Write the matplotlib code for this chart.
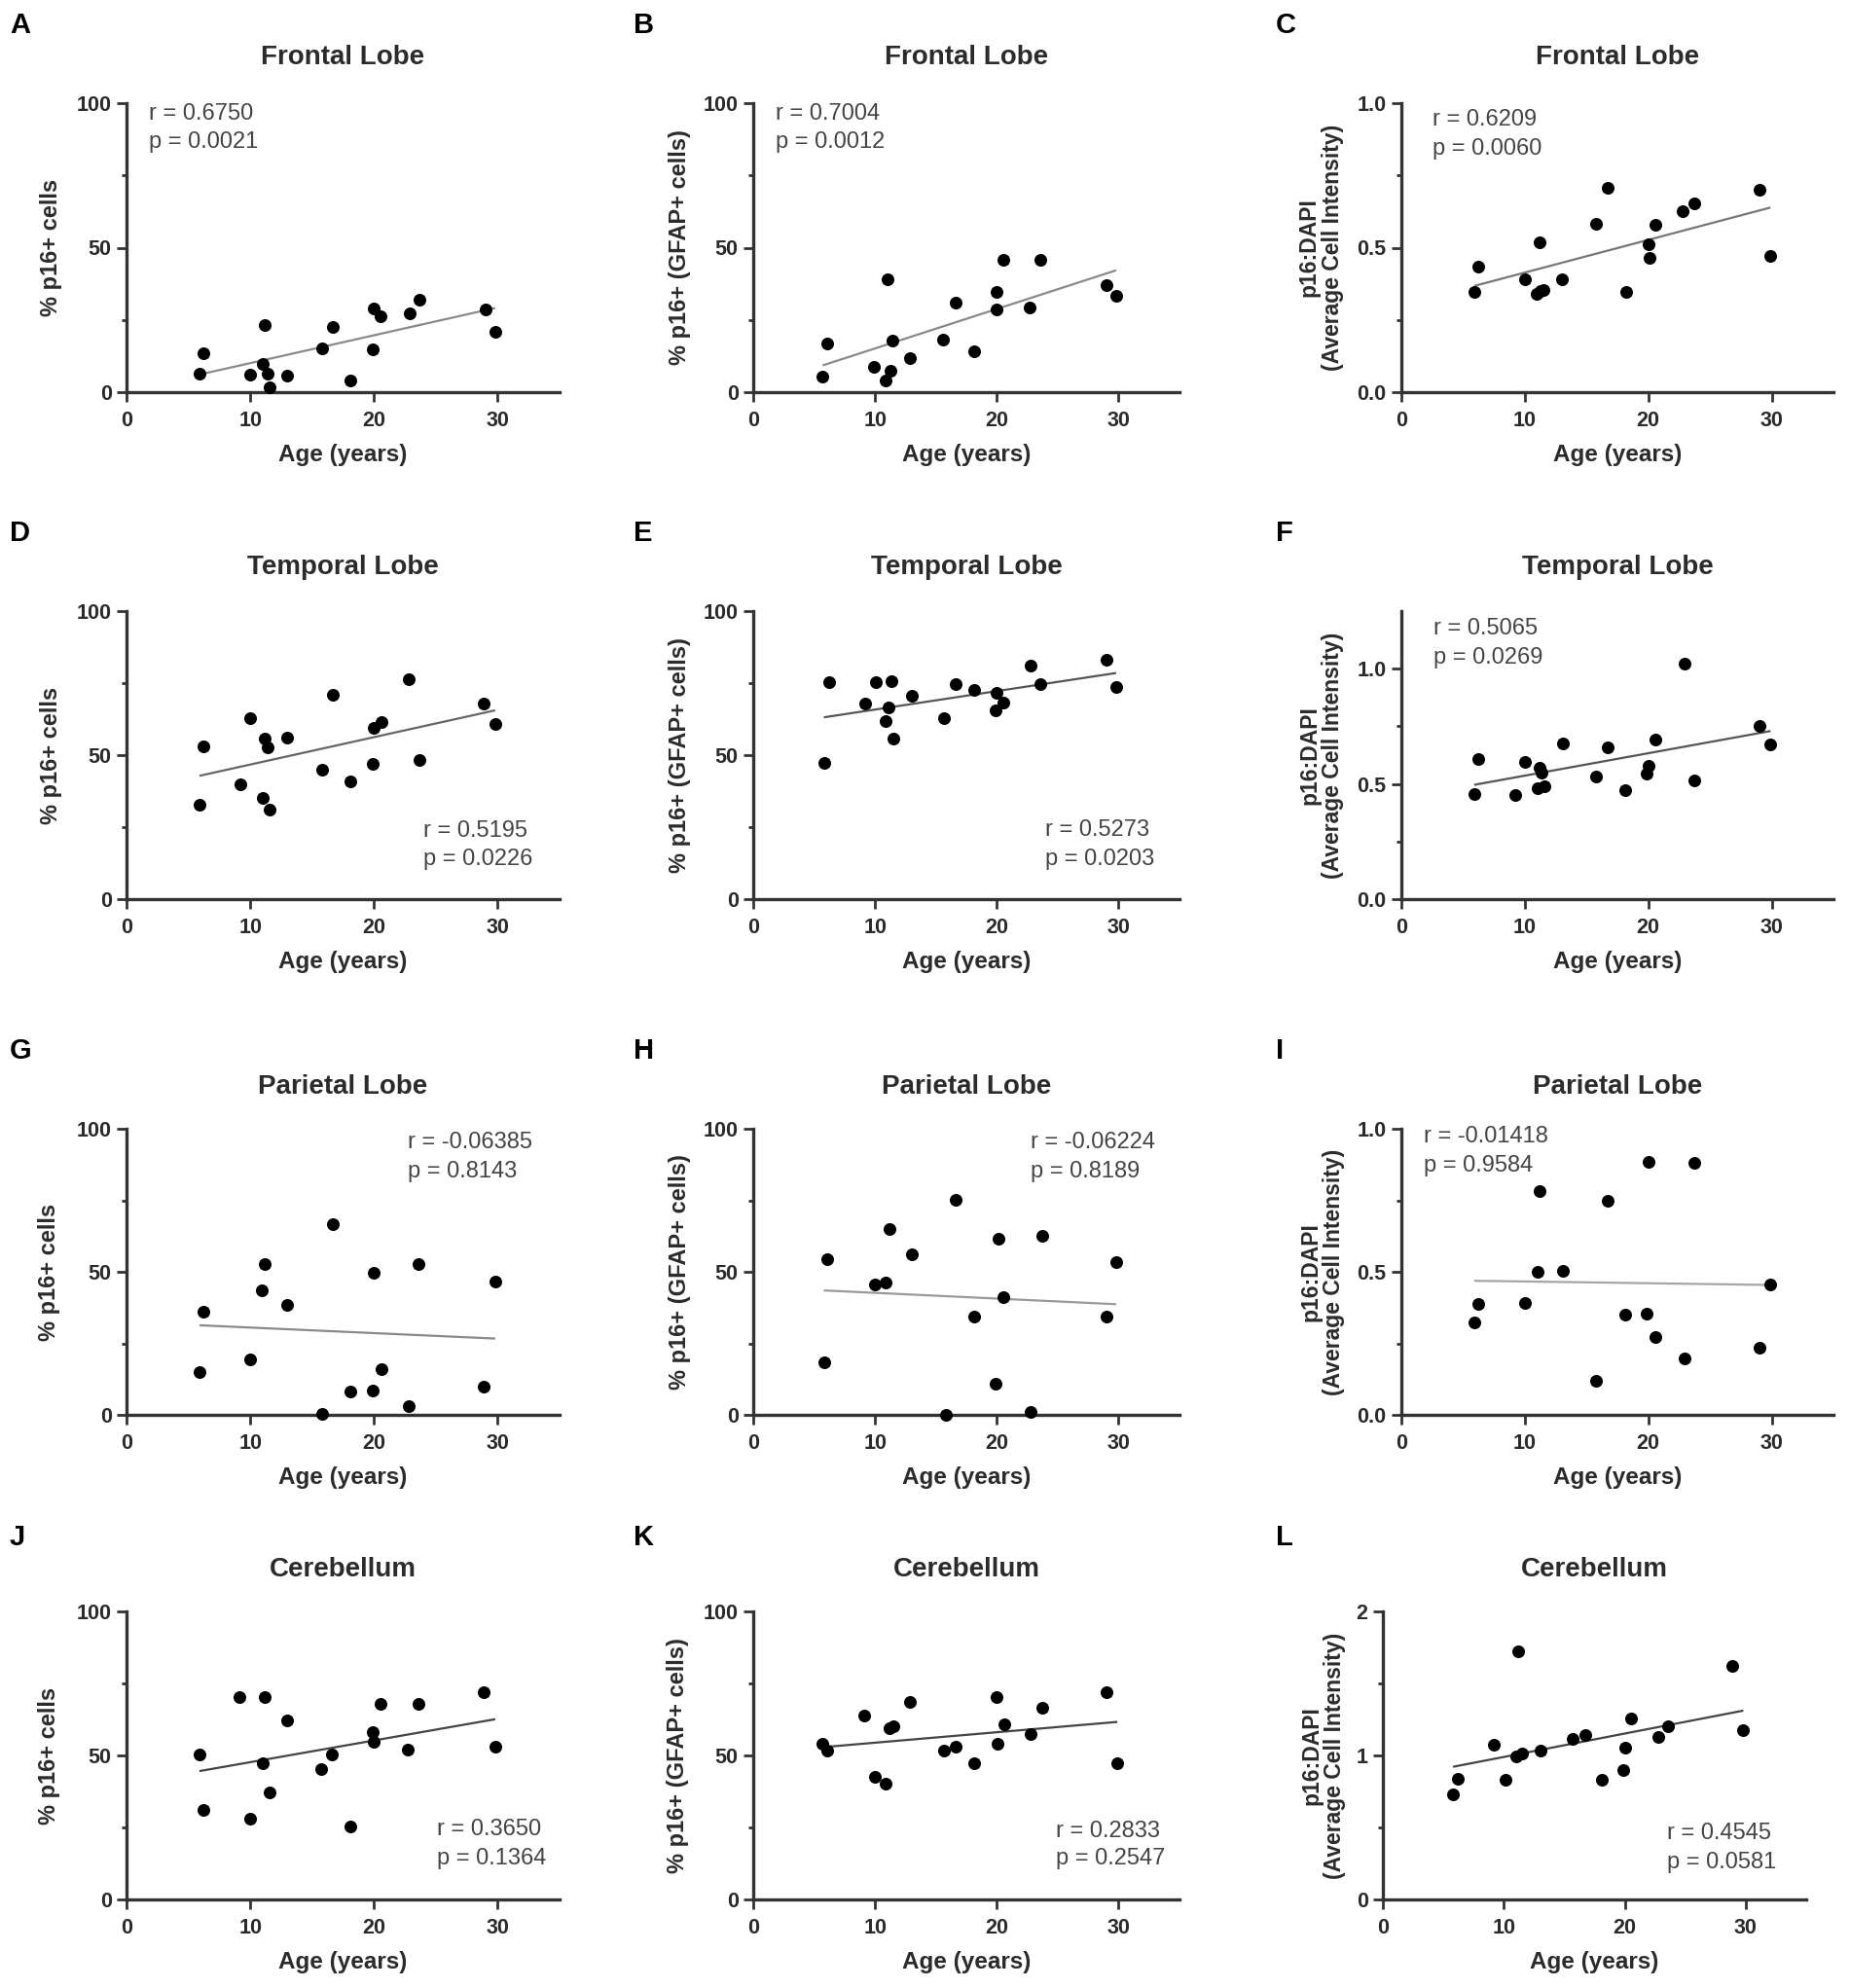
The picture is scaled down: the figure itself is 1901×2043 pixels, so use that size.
import numpy as np
import matplotlib
matplotlib.use("Agg")
import matplotlib.pyplot as plt

plt.rcParams['font.family'] = ['Liberation Sans', 'DejaVu Sans']

# ---------------- data ----------------
a_age = [5.9, 6.2, 10.0, 11.0, 11.2, 11.4, 11.6, 13.0, 15.8, 16.7, 18.1, 20.0, 19.9, 20.5, 22.9, 23.7, 29.0, 29.8]
a_val = [6.4, 13.3, 6.2, 9.9, 23.3, 6.4, 1.7, 5.6, 15.2, 22.5, 3.9, 28.9, 14.9, 26.1, 27.3, 32.1, 28.7, 20.8]

b_age = [5.7, 6.1, 9.9, 11.0, 10.9, 11.3, 11.4, 12.9, 15.6, 16.6, 18.1, 19.95, 20.0, 20.5, 22.7, 23.6, 29.0, 29.8]
b_val = [5.5, 16.8, 8.7, 39.1, 4.2, 7.3, 17.7, 11.8, 18.2, 31.0, 14.0, 28.6, 34.8, 45.9, 29.2, 45.9, 37.2, 33.5]

c_age = [5.9, 6.2, 10.0, 11.2, 10.95, 11.3, 11.5, 13.0, 15.75, 16.7, 18.2, 20.0, 20.1, 20.6, 22.8, 23.7, 29.0, 29.9]
c_val = [0.346, 0.436, 0.390, 0.520, 0.339, 0.349, 0.355, 0.390, 0.584, 0.706, 0.346, 0.511, 0.464, 0.579, 0.626, 0.654, 0.702, 0.472]

d_age = [5.9, 6.2, 9.2, 10.0, 11.0, 11.2, 11.4, 11.6, 13.0, 15.8, 16.7, 18.1, 19.9, 20.0, 20.6, 22.8, 23.7, 28.9, 29.8]
d_val = [32.9, 52.9, 40.0, 62.8, 35.1, 55.8, 52.7, 31.2, 56.0, 44.8, 71.1, 41.0, 47.1, 59.3, 61.5, 76.5, 48.4, 68.0, 60.7]

e_age = [5.8, 6.2, 9.2, 10.05, 10.9, 11.1, 11.35, 11.5, 13.0, 15.7, 16.6, 18.1, 19.9, 20.0, 20.5, 22.8, 23.6, 29.0, 29.8]
e_val = [47.3, 75.3, 67.8, 75.5, 61.8, 66.5, 75.8, 55.9, 70.7, 62.7, 74.5, 72.6, 65.6, 71.5, 68.2, 81.2, 74.5, 83.0, 73.8]

f_age = [5.9, 6.2, 9.2, 10.0, 11.0, 11.2, 11.35, 11.6, 13.05, 15.8, 16.7, 18.1, 19.9, 20.0, 20.6, 22.9, 23.7, 29.0, 29.9]
f_val = [0.456, 0.608, 0.452, 0.594, 0.480, 0.570, 0.548, 0.491, 0.677, 0.530, 0.658, 0.473, 0.544, 0.577, 0.691, 1.023, 0.516, 0.751, 0.672]

g_age = [5.9, 6.2, 10.0, 10.9, 11.2, 13.0, 15.8, 16.65, 18.1, 19.9, 20.0, 20.6, 22.8, 23.6, 28.9, 29.8]
g_val = [14.8, 36.1, 19.3, 43.4, 52.6, 38.3, 0.3, 66.8, 8.0, 8.5, 49.8, 16.1, 3.1, 52.6, 10.0, 46.6]

h_age = [5.8, 6.1, 10.0, 10.9, 11.2, 13.0, 15.8, 16.6, 18.1, 19.9, 20.1, 20.5, 22.8, 23.7, 29.0, 29.8]
h_val = [18.5, 54.3, 45.5, 46.4, 64.8, 56.0, 0.0, 75.3, 34.3, 10.8, 61.4, 41.1, 0.9, 62.7, 34.3, 53.4]

i_age = [5.9, 6.2, 10.0, 11.0, 11.2, 13.05, 15.8, 16.7, 18.1, 19.9, 20.0, 20.6, 22.9, 23.7, 29.0, 29.9]
i_val = [0.323, 0.389, 0.392, 0.499, 0.784, 0.502, 0.118, 0.749, 0.351, 0.355, 0.885, 0.273, 0.198, 0.880, 0.235, 0.457]

j_age = [5.9, 6.2, 9.1, 10.0, 11.0, 11.2, 11.55, 13.0, 15.7, 16.6, 18.1, 19.9, 20.0, 20.55, 22.7, 23.6, 28.9, 29.8]
j_val = [50.3, 31.0, 70.4, 27.9, 47.3, 70.4, 37.2, 62.2, 45.3, 50.3, 25.3, 58.2, 54.6, 67.9, 52.1, 67.9, 72.1, 53.2]

k_age = [5.7, 6.1, 9.1, 10.0, 10.9, 11.2, 11.5, 12.9, 15.7, 16.6, 18.1, 19.95, 20.05, 20.6, 22.8, 23.7, 29.0, 29.9]
k_val = [54.1, 51.6, 63.9, 42.6, 40.1, 59.4, 60.0, 68.7, 51.6, 53.0, 47.3, 70.4, 54.1, 60.9, 57.4, 66.4, 72.1, 47.3]

l_age = [5.8, 6.2, 9.2, 10.1, 11.0, 11.2, 11.5, 13.0, 15.7, 16.7, 18.1, 19.9, 20.0, 20.5, 22.8, 23.6, 28.9, 29.8]
l_val = [0.728, 0.839, 1.071, 0.830, 0.992, 1.725, 1.015, 1.037, 1.116, 1.145, 0.834, 0.897, 1.053, 1.258, 1.127, 1.200, 1.619, 1.177]

letters = ['A', 'B', 'C', 'D', 'E', 'F', 'G', 'H', 'I', 'J', 'K', 'L']
titles = ['Frontal Lobe'] * 3 + ['Temporal Lobe'] * 3 + ['Parietal Lobe'] * 3 + ['Cerebellum'] * 3
ylabels = ['% p16+ cells', '% p16+ (GFAP+ cells)', 'p16:DAPI\n(Average Cell Intensity)'] * 4
r_text = ['r = 0.6750', 'r = 0.7004', 'r = 0.6209', 'r = 0.5195', 'r = 0.5273', 'r = 0.5065',
          'r = -0.06385', 'r = -0.06224', 'r = -0.01418', 'r = 0.3650', 'r = 0.2833', 'r = 0.4545']
p_text = ['p = 0.0021', 'p = 0.0012', 'p = 0.0060', 'p = 0.0226', 'p = 0.0203', 'p = 0.0269',
          'p = 0.8143', 'p = 0.8189', 'p = 0.9584', 'p = 0.1364', 'p = 0.2547', 'p = 0.0581']
x_ticks = [0, 10, 20, 30]
pct_ticks = [0, 50, 100]
ratio_ticks = [0.0, 0.5, 1.0]
ratio_ticklabels = ['0.0', '0.5', '1.0']
cb_ticks = [0, 1, 2]

ages = [a_age, b_age, c_age, d_age, e_age, f_age, g_age, h_age, i_age, j_age, k_age, l_age]
vals = [a_val, b_val, c_val, d_val, e_val, f_val, g_val, h_val, i_val, j_val, k_val, l_val]

# ---------------- layout ----------------
W, H = 1901, 2043
fig = plt.figure(figsize=(W / 100, H / 100), dpi=100)

col_lr = [(130, 575), (774, 1212), (1440, 1884)]
row_tb = [(106, 403), (628, 924), (1160, 1454), (1656, 1952)]
title_y = [59, 583, 1117, 1613]
letter_y = [26, 548, 1080, 1580]
letter_x = [10, 651, 1311]

yspec = []
for i in range(12):
    col = i % 3
    if col < 2:
        yspec.append((100, pct_ticks, [str(t) for t in pct_ticks], [25, 75]))
    elif i == 5:
        yspec.append((1.25, ratio_ticks, ratio_ticklabels, [0.25, 0.75]))
    elif i == 11:
        yspec.append((2, cb_ticks, [str(t) for t in cb_ticks], [0.5, 1.5]))
    else:
        yspec.append((1.0, ratio_ticks, ratio_ticklabels, [0.25, 0.75]))

stat_pos = [(0.052, 0.963, 0.864), (0.053, 0.964, 0.865), (0.073, 0.944, 0.842),
            (0.686, 0.238, 0.138), (0.686, 0.239, 0.139), (0.0735, 0.940, 0.838),
            (0.649, 0.951, 0.852), (0.650, 0.951, 0.852), (0.051, 0.974, 0.872),
            (0.716, 0.242, 0.141), (0.711, 0.238, 0.141), (0.672, 0.229, 0.130)]
ylab_x = [-0.149, -0.145, -0.134, -0.149, -0.145, -0.133,
          -0.153, -0.147, -0.130, -0.152, -0.150, -0.087]
line_col = ['#8a8a8a', '#8a8a8a', '#777777', '#666666', '#555555', '#555555',
            '#8a8a8a', '#999999', '#a5a5a5', '#444444', '#444444', '#444444']

axis_col = '#333333'
text_col = '#2b2b2b'

for i in range(12):
    row, col = divmod(i, 3)
    l, r = col_lr[col]
    if i == 11:
        l, r = 1421, 1856
    t, b = row_tb[row]
    ax = fig.add_axes([l / W, 1 - b / H, (r - l) / W, (b - t) / H])
    x = np.array(ages[i]); y = np.array(vals[i])
    ymax, yt, ytl, ymin_t = yspec[i]

    coef = np.polyfit(x, y, 1)
    xs = np.array([x.min(), x.max()])
    ax.plot(xs, np.polyval(coef, xs), color=line_col[i], lw=1.6, zorder=2,
            solid_capstyle='butt')
    ax.scatter(x, y, s=88, color='black', zorder=5, clip_on=False, linewidths=0)

    ax.set_xlim(0, 35)
    ax.set_ylim(0, ymax)
    ax.set_xticks(x_ticks)
    ax.set_xticklabels([str(v) for v in x_ticks])
    ax.set_yticks(yt)
    ax.set_yticklabels(ytl)
    ax.set_yticks(ymin_t, minor=True)

    for s in ['top', 'right']:
        ax.spines[s].set_visible(False)
    for s in ['left', 'bottom']:
        ax.spines[s].set_linewidth(2.4)
        ax.spines[s].set_color(axis_col)
    ax.tick_params(axis='both', which='major', length=7, width=2.0, color=axis_col,
                   labelsize=15.5, labelcolor=text_col)
    ax.tick_params(axis='x', which='major', pad=7)
    ax.tick_params(axis='y', which='major', pad=4)
    ax.tick_params(axis='y', which='minor', length=3.5, width=2.0, color=axis_col)
    for lab in ax.get_xticklabels() + ax.get_yticklabels():
        lab.set_fontweight('bold')

    ax.set_xlabel('Age (years)', fontsize=17.5, fontweight='bold', color=text_col)
    ax.xaxis.set_label_coords(0.5, -0.18)
    ax.set_ylabel(ylabels[i], fontsize=(16.5 if col == 2 else 17), fontweight='bold',
                  color=text_col, linespacing=1.05)
    ax.yaxis.set_label_coords(ylab_x[i], 0.5)

    sx, ry, py = stat_pos[i]
    ax.text(sx, ry, r_text[i], transform=ax.transAxes, ha='left', va='center',
            fontsize=17, color='#444444')
    ax.text(sx, py, p_text[i], transform=ax.transAxes, ha='left', va='center',
            fontsize=17, color='#444444')

    fig.text((l + r) / 2 / W, 1 - title_y[row] / H, titles[i], ha='center', va='center',
             fontsize=20, fontweight='bold', color=text_col)
    fig.text(letter_x[col] / W, 1 - letter_y[row] / H, letters[i], ha='left', va='center',
             fontsize=21, fontweight='bold', color='black')

fig.savefig('out.png', dpi=100, facecolor='white')
